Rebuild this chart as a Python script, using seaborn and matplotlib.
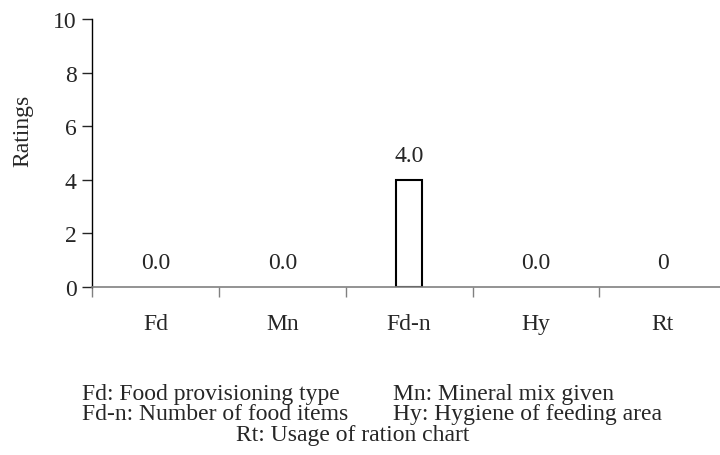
import seaborn as sns
import matplotlib.pyplot as plt
import pandas as pd

# data
categories = ["Fd", "Mn", "Fd-n", "Hy", "Rt"]
ratings = [0.0, 0.0, 4.0, 0.0, 0.0]
value_labels = ["0.0", "0.0", "4.0", "0.0", "0"]
y_ticks = [0, 2, 4, 6, 8, 10]

caption_left = ["Fd: Food provisioning type", "Fd-n: Number of food items"]
caption_right = ["Mn: Mineral mix given", "Hy: Hygiene of feeding area"]
caption_last = "Rt: Usage of ration chart"

df = pd.DataFrame({"item": categories, "rating": ratings})

sns.set_style("ticks")
plt.rcParams["font.family"] = ["Liberation Serif", "DejaVu Serif"]
FS = 17

W, H = 720, 456
fig = plt.figure(figsize=(7.2, 4.56), dpi=100)
ax = fig.add_axes([92 / W, (H - 288) / H, 628 / W, 268 / H])

sns.barplot(data=df, x="item", y="rating", ax=ax, width=0.2,
            color="white", edgecolor="black", linewidth=1.5)

# zero-height bars should not leave a dark line on the axis
for patch in ax.patches:
    if patch.get_height() == 0:
        patch.set_linewidth(0)

# value labels above each bar
for bars in ax.containers:
    ax.bar_label(bars, labels=value_labels, padding=10, fontsize=FS)

ax.set_ylim(0, 10)
ax.set_yticks(y_ticks)
ax.set_xlim(-0.5, 4.45)

# ticks on the x-axis sit between the categories
ax.set_xticks(range(len(categories)))
ax.set_xticklabels(categories, fontsize=FS)
ax.set_xticks([i - 0.5 for i in range(len(categories))], minor=True)
ax.tick_params(axis="x", which="major", length=0, pad=19)
ax.tick_params(axis="x", which="minor", length=7, width=1, color="#808080", direction="out")
ax.tick_params(axis="y", labelsize=FS, length=7, width=1, direction="out", pad=4)

ax.set_xlabel("")
ax.set_ylabel("Ratings", fontsize=FS)
ax.yaxis.set_label_coords(-0.094, 0.586)

sns.despine(ax=ax)
ax.spines["left"].set_color("black")
ax.spines["left"].set_linewidth(1)
ax.spines["bottom"].set_color("#808080")
ax.spines["bottom"].set_linewidth(1.2)

# caption under the chart
for i, (left, right) in enumerate(zip(caption_left, caption_right)):
    yb = 1 - (400 + 20 * i) / H
    fig.text(82 / W, yb, left, fontsize=FS, va="baseline", ha="left")
    fig.text(393 / W, yb, right, fontsize=FS, va="baseline", ha="left")
fig.text(353 / W, 1 - 441 / H, caption_last, fontsize=FS, va="baseline", ha="center")

fig.savefig("out.png", dpi=100)
